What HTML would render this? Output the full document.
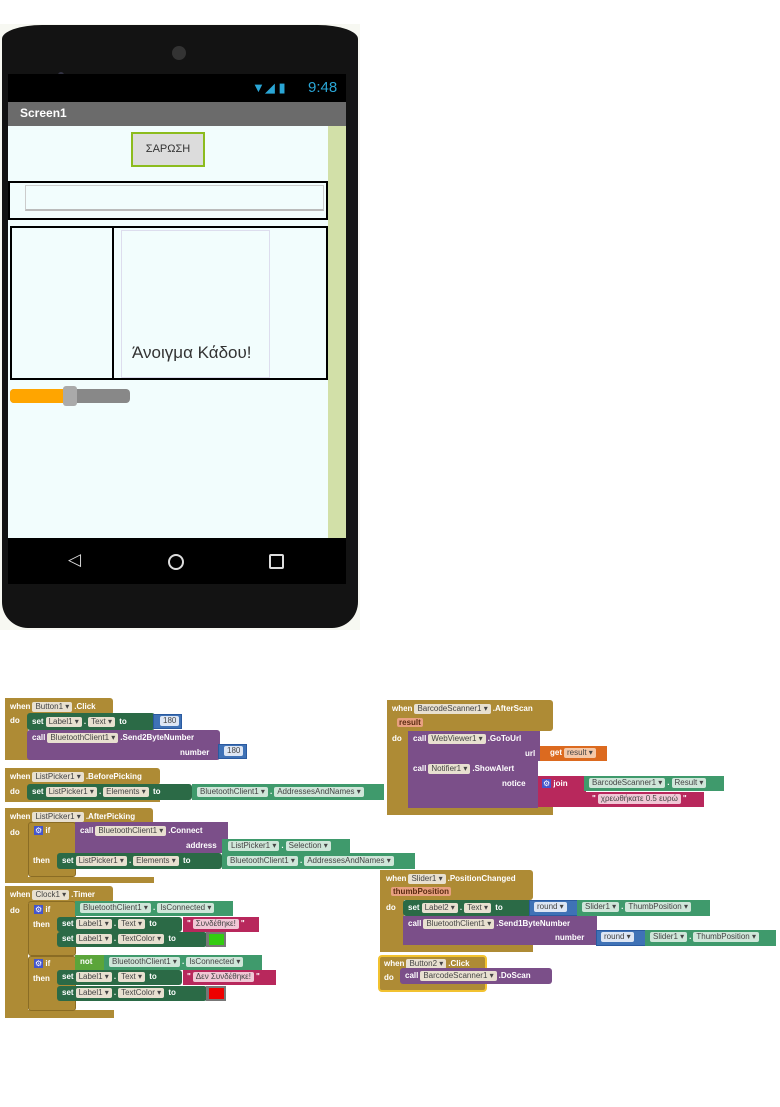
<!DOCTYPE html>
<html><head><meta charset="utf-8"><style>
*{margin:0;padding:0;box-sizing:border-box}
body{width:780px;height:1107px;background:#fff;position:relative;overflow:hidden;font-family:"Liberation Sans","DejaVu Sans",sans-serif}
.a{position:absolute}
.t{position:absolute;font-size:8px;font-weight:bold;color:#fff;white-space:nowrap;line-height:10px}
.d{display:inline-block;background:#e8e0d0;color:#444;border-radius:2px;padding:0 3px;font-weight:normal;margin:0 2px}
.ev{background:#ae8b35}
.st{background:#2b6a46}
.gt{background:#3f9a6c}
.pu{background:#7b4f89}
.bl{background:#3f72b6;border:1px solid #2a5aa0}
.rd{background:#b8285c}
.or{background:#dc6a1f}
</style></head><body>
<!-- phone backdrop -->
<div class="a" style="left:0;top:24px;width:360px;height:606px;background:#f7f8f2"></div>
<div class="a" style="left:2px;top:25px;width:356px;height:603px;background:#131313;border-radius:40px 40px 26px 26px / 14px 14px 26px 26px"></div>
<div class="a" style="left:58px;top:72px;width:6px;height:6px;border-radius:50%;background:#334;"></div>
<div class="a" style="left:172px;top:46px;width:14px;height:14px;border-radius:50%;background:#333"></div>
<div class="a" style="left:8px;top:74px;width:338px;height:28px;background:#000"></div>
<div class="a" style="left:252px;top:80px;width:50px;height:16px;color:#2aa6d6;font-size:13px">&#x25BC;&#x25E2; &#x25AE;</div>
<div class="a" style="left:308px;top:79px;color:#2aa6d6;font-size:15px">9:48</div>
<div class="a" style="left:8px;top:102px;width:338px;height:24px;background:#6b6b6b"></div>
<div class="a" style="left:20px;top:106px;color:#fff;font-size:12px;font-weight:bold">Screen1</div>
<div class="a" style="left:8px;top:126px;width:338px;height:412px;background:#f2fdfd"></div>
<div class="a" style="left:328px;top:126px;width:18px;height:412px;background:#d2e0a8"></div>
<div class="a" style="left:131px;top:132px;width:74px;height:35px;border:2px solid #8cbc1e;background:#dcdcdc;font-size:11px;color:#333;text-align:center;line-height:31px">ΣΑΡΩΣΗ</div>
<div class="a" style="left:8px;top:181px;width:320px;height:39px;border:2px solid #000"></div>
<div class="a" style="left:25px;top:185px;width:299px;height:26px;border:1px solid #ccc;border-bottom:2px solid #bbb"></div>
<div class="a" style="left:10px;top:226px;width:318px;height:154px;border:2px solid #000"></div>
<div class="a" style="left:112px;top:228px;width:2px;height:150px;background:#000"></div>
<div class="a" style="left:121px;top:230px;width:149px;height:148px;border:1px solid #dde"></div>
<div class="a" style="left:132px;top:343px;font-size:17px;color:#333">Άνοιγμα Κάδου!</div>
<div class="a" style="left:10px;top:389px;width:120px;height:14px;border-radius:4px;background:#888"></div>
<div class="a" style="left:10px;top:389px;width:60px;height:14px;border-radius:4px 0 0 4px;background:#ffa500"></div>
<div class="a" style="left:63px;top:386px;width:14px;height:20px;border-radius:3px;background:#aaa"></div>
<div class="a" style="left:8px;top:538px;width:338px;height:46px;background:#000"></div>
<div class="a" style="left:68px;top:550px;color:#ddd;font-size:17px">&#x25C1;</div>
<div class="a" style="left:168px;top:554px;width:16px;height:16px;border:2px solid #ddd;border-radius:50%"></div>
<div class="a" style="left:269px;top:554px;width:15px;height:15px;border:2px solid #ddd;border-radius:2px"></div>

<!-- Button1.Click -->
<div class="a ev" style="left:5px;top:698px;width:108px;height:17px;border-radius:3px"></div>
<div class="a ev" style="left:5px;top:698px;width:23px;height:62px"></div>
<div class="a ev" style="left:5px;top:752px;width:108px;height:8px"></div>
<div class="t" style="left:10px;top:702px">when<span class="d">Button1 ▾</span>.Click</div>
<div class="t" style="left:10px;top:716px">do</div>
<div class="a st" style="left:27px;top:713px;width:128px;height:17px;border-radius:3px"></div>
<div class="t" style="left:32px;top:717px">set<span class="d">Label1 ▾</span>.<span class="d">Text ▾</span> to</div>
<div class="a bl" style="left:153px;top:714px;width:29px;height:15px"></div>
<div class="t" style="left:158px;top:716px"><span class="d" style="background:#dde6f4">180</span></div>
<div class="a pu" style="left:27px;top:730px;width:193px;height:30px;border-radius:3px"></div>
<div class="t" style="left:32px;top:733px">call<span class="d">BluetoothClient1 ▾</span>.Send2ByteNumber</div>
<div class="t" style="left:180px;top:748px">number</div>
<div class="a bl" style="left:218px;top:744px;width:29px;height:15px"></div>
<div class="t" style="left:222px;top:746px"><span class="d" style="background:#dde6f4">180</span></div>

<!-- BeforePicking -->
<div class="a ev" style="left:5px;top:768px;width:155px;height:17px;border-radius:3px"></div>
<div class="a ev" style="left:5px;top:768px;width:23px;height:34px"></div>
<div class="a ev" style="left:5px;top:796px;width:155px;height:6px"></div>
<div class="t" style="left:10px;top:772px">when<span class="d">ListPicker1 ▾</span>.BeforePicking</div>
<div class="t" style="left:10px;top:787px">do</div>
<div class="a st" style="left:27px;top:784px;width:165px;height:16px;border-radius:3px"></div>
<div class="t" style="left:32px;top:787px">set<span class="d">ListPicker1 ▾</span>.<span class="d">Elements ▾</span> to</div>
<div class="a gt" style="left:192px;top:784px;width:192px;height:16px"></div>
<div class="t" style="left:195px;top:787px"><span class="d" style="background:#cfe6d9">BluetoothClient1 ▾</span>.<span class="d" style="background:#cfe6d9">AddressesAndNames ▾</span></div>

<!-- AfterPicking -->
<div class="a ev" style="left:5px;top:808px;width:148px;height:17px;border-radius:3px"></div>
<div class="a ev" style="left:5px;top:808px;width:23px;height:75px"></div>
<div class="a ev" style="left:5px;top:877px;width:149px;height:6px"></div>
<div class="t" style="left:10px;top:812px">when<span class="d">ListPicker1 ▾</span>.AfterPicking</div>
<div class="t" style="left:10px;top:828px">do</div>
<div class="a ev" style="left:28px;top:822px;width:48px;height:55px;border:1px solid #8a6c24;border-radius:3px"></div>
<div class="t" style="left:34px;top:826px"><span style="background:#4455cc;padding:0 1px">⚙</span> if</div>
<div class="t" style="left:33px;top:856px">then</div>
<div class="a pu" style="left:75px;top:822px;width:153px;height:31px"></div>
<div class="t" style="left:80px;top:826px">call<span class="d">BluetoothClient1 ▾</span>.Connect</div>
<div class="t" style="left:186px;top:841px">address</div>
<div class="a gt" style="left:222px;top:839px;width:128px;height:14px"></div>
<div class="t" style="left:226px;top:841px"><span class="d" style="background:#cfe6d9">ListPicker1 ▾</span>.<span class="d" style="background:#cfe6d9">Selection ▾</span></div>
<div class="a st" style="left:57px;top:853px;width:165px;height:16px;border-radius:3px"></div>
<div class="t" style="left:62px;top:856px">set<span class="d">ListPicker1 ▾</span>.<span class="d">Elements ▾</span> to</div>
<div class="a gt" style="left:222px;top:853px;width:193px;height:16px"></div>
<div class="t" style="left:225px;top:856px"><span class="d" style="background:#cfe6d9">BluetoothClient1 ▾</span>.<span class="d" style="background:#cfe6d9">AddressesAndNames ▾</span></div>

<!-- Clock1.Timer -->
<div class="a ev" style="left:5px;top:886px;width:108px;height:17px;border-radius:3px"></div>
<div class="a ev" style="left:5px;top:886px;width:23px;height:132px"></div>
<div class="a ev" style="left:5px;top:1010px;width:109px;height:8px"></div>
<div class="t" style="left:10px;top:890px">when<span class="d">Clock1 ▾</span>.Timer</div>
<div class="t" style="left:10px;top:906px">do</div>
<div class="a ev" style="left:28px;top:901px;width:48px;height:55px;border:1px solid #8a6c24;border-radius:3px"></div>
<div class="a ev" style="left:28px;top:956px;width:48px;height:55px;border:1px solid #8a6c24;border-radius:3px"></div>
<div class="t" style="left:34px;top:905px"><span style="background:#4455cc;padding:0 1px">⚙</span> if</div>
<div class="t" style="left:33px;top:920px">then</div>
<div class="t" style="left:34px;top:959px"><span style="background:#4455cc;padding:0 1px">⚙</span> if</div>
<div class="t" style="left:33px;top:974px">then</div>
<div class="a gt" style="left:75px;top:901px;width:158px;height:15px"></div>
<div class="t" style="left:78px;top:903px"><span class="d" style="background:#cfe6d9">BluetoothClient1 ▾</span>.<span class="d" style="background:#cfe6d9">IsConnected ▾</span></div>
<div class="a st" style="left:57px;top:917px;width:125px;height:15px;border-radius:3px"></div>
<div class="t" style="left:62px;top:919px">set<span class="d">Label1 ▾</span>.<span class="d">Text ▾</span> to</div>
<div class="a rd" style="left:183px;top:917px;width:76px;height:15px"></div>
<div class="t" style="left:187px;top:919px">"<span class="d" style="background:#f0c8d6">Συνδέθηκε!</span>"</div>
<div class="a st" style="left:57px;top:932px;width:150px;height:15px;border-radius:3px"></div>
<div class="t" style="left:62px;top:934px">set<span class="d">Label1 ▾</span>.<span class="d">TextColor ▾</span> to</div>
<div class="a" style="left:206px;top:932px;width:20px;height:15px;background:#777"></div>
<div class="a" style="left:209px;top:934px;width:15px;height:11px;background:#33cc11"></div>
<div class="a" style="left:75px;top:955px;width:30px;height:15px;background:#5ba53a"></div>
<div class="t" style="left:80px;top:957px">not</div>
<div class="a gt" style="left:104px;top:955px;width:158px;height:15px"></div>
<div class="t" style="left:107px;top:957px"><span class="d" style="background:#cfe6d9">BluetoothClient1 ▾</span>.<span class="d" style="background:#cfe6d9">IsConnected ▾</span></div>
<div class="a st" style="left:57px;top:970px;width:125px;height:15px;border-radius:3px"></div>
<div class="t" style="left:62px;top:972px">set<span class="d">Label1 ▾</span>.<span class="d">Text ▾</span> to</div>
<div class="a rd" style="left:183px;top:970px;width:93px;height:15px"></div>
<div class="t" style="left:187px;top:972px">"<span class="d" style="background:#f0c8d6">Δεν Συνδέθηκε!</span>"</div>
<div class="a st" style="left:57px;top:986px;width:150px;height:15px;border-radius:3px"></div>
<div class="t" style="left:62px;top:988px">set<span class="d">Label1 ▾</span>.<span class="d">TextColor ▾</span> to</div>
<div class="a" style="left:206px;top:986px;width:20px;height:15px;background:#777"></div>
<div class="a" style="left:209px;top:988px;width:15px;height:11px;background:#ee0000"></div>

<!-- AfterScan -->
<div class="a ev" style="left:387px;top:700px;width:166px;height:31px;border-radius:3px"></div>
<div class="a ev" style="left:387px;top:700px;width:22px;height:115px"></div>
<div class="a ev" style="left:387px;top:806px;width:166px;height:9px"></div>
<div class="t" style="left:392px;top:704px">when<span class="d">BarcodeScanner1 ▾</span>.AfterScan</div>
<div class="t" style="left:397px;top:718px"><span style="background:#e8a080;color:#5a2a10;padding:0 2px;border-radius:2px">result</span></div>
<div class="t" style="left:392px;top:734px">do</div>
<div class="a pu" style="left:408px;top:731px;width:132px;height:30px"></div>
<div class="t" style="left:413px;top:734px">call<span class="d">WebViewer1 ▾</span>.GoToUrl</div>
<div class="t" style="left:525px;top:749px">url</div>
<div class="a or" style="left:540px;top:746px;width:67px;height:15px"></div>
<div class="t" style="left:550px;top:748px">get<span class="d" style="background:#f4c8a8">result ▾</span></div>
<div class="a pu" style="left:408px;top:761px;width:130px;height:47px"></div>
<div class="t" style="left:413px;top:764px">call<span class="d">Notifier1 ▾</span>.ShowAlert</div>
<div class="t" style="left:502px;top:779px">notice</div>
<div class="a rd" style="left:538px;top:776px;width:48px;height:31px"></div>
<div class="t" style="left:542px;top:779px"><span style="background:#4455cc;padding:0 1px">⚙</span> join</div>
<div class="a gt" style="left:584px;top:776px;width:140px;height:15px"></div>
<div class="t" style="left:587px;top:778px"><span class="d" style="background:#cfe6d9">BarcodeScanner1 ▾</span>.<span class="d" style="background:#cfe6d9">Result ▾</span></div>
<div class="a rd" style="left:585px;top:792px;width:119px;height:15px"></div>
<div class="t" style="left:592px;top:794px">"<span class="d" style="background:#f0c8d6">χρεωθήκατε 0.5 ευρώ</span>"</div>

<!-- Slider -->
<div class="a ev" style="left:380px;top:870px;width:153px;height:30px;border-radius:3px"></div>
<div class="a ev" style="left:380px;top:870px;width:24px;height:82px"></div>
<div class="a ev" style="left:380px;top:945px;width:153px;height:7px"></div>
<div class="t" style="left:386px;top:874px">when<span class="d">Slider1 ▾</span>.PositionChanged</div>
<div class="t" style="left:391px;top:887px"><span style="background:#e8a080;color:#5a2a10;padding:0 2px;border-radius:2px">thumbPosition</span></div>
<div class="t" style="left:386px;top:903px">do</div>
<div class="a st" style="left:403px;top:900px;width:150px;height:16px;border-radius:3px"></div>
<div class="t" style="left:408px;top:903px">set<span class="d">Label2 ▾</span>.<span class="d">Text ▾</span> to</div>
<div class="a bl" style="left:529px;top:900px;width:49px;height:16px"></div>
<div class="t" style="left:532px;top:902px"><span class="d" style="background:#dde6f4">round ▾</span></div>
<div class="a gt" style="left:577px;top:900px;width:133px;height:16px"></div>
<div class="t" style="left:580px;top:902px"><span class="d" style="background:#cfe6d9">Slider1 ▾</span>.<span class="d" style="background:#cfe6d9">ThumbPosition ▾</span></div>
<div class="a pu" style="left:403px;top:916px;width:194px;height:29px"></div>
<div class="t" style="left:408px;top:919px">call<span class="d">BluetoothClient1 ▾</span>.Send1ByteNumber</div>
<div class="t" style="left:555px;top:933px">number</div>
<div class="a bl" style="left:596px;top:930px;width:50px;height:16px"></div>
<div class="t" style="left:599px;top:932px"><span class="d" style="background:#dde6f4">round ▾</span></div>
<div class="a gt" style="left:645px;top:930px;width:131px;height:16px"></div>
<div class="t" style="left:648px;top:932px"><span class="d" style="background:#cfe6d9">Slider1 ▾</span>.<span class="d" style="background:#cfe6d9">ThumbPosition ▾</span></div>

<!-- Button2 -->
<div class="a ev" style="left:378px;top:955px;width:109px;height:37px;border:2px solid #f2c230;border-radius:4px"></div>
<div class="t" style="left:384px;top:959px">when<span class="d">Button2 ▾</span>.Click</div>
<div class="t" style="left:384px;top:973px">do</div>
<div class="a pu" style="left:400px;top:968px;width:152px;height:16px;border-radius:3px"></div>
<div class="t" style="left:405px;top:971px">call<span class="d">BarcodeScanner1 ▾</span>.DoScan</div>
</body></html>
